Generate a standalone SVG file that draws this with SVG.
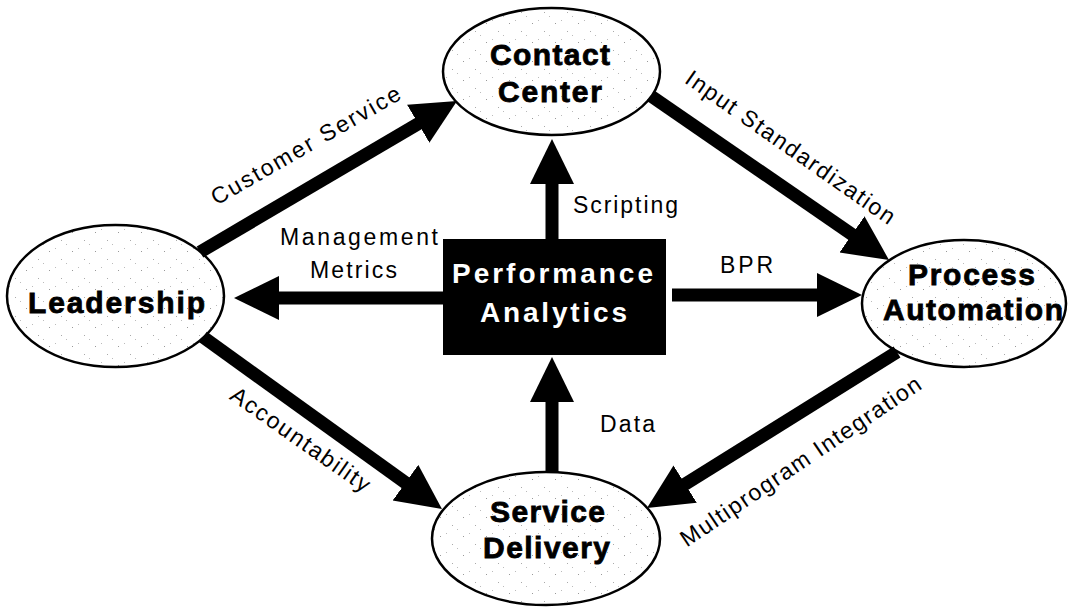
<svg xmlns="http://www.w3.org/2000/svg" width="1069" height="608" viewBox="0 0 1069 608">
  <style>
    .node-shape { fill: url(#stipple); stroke: #000; stroke-width: 2.5; }
    .node-label { font-family: "Liberation Sans", Arial, sans-serif; font-weight: bold; font-size: 30px; fill: #000; stroke: #000; stroke-width: 0.8; text-anchor: middle; }
    .hub-label { font-family: "Liberation Sans", Arial, sans-serif; font-weight: bold; font-size: 28px; fill: #fff; text-anchor: middle; }
    .edge { stroke: #000; stroke-width: 13; fill: none; stroke-linecap: butt; marker-end: url(#head); }
    .edge-label { font-family: "Liberation Sans", Arial, sans-serif; font-size: 23px; fill: #000; }
  </style>
  <defs>
    <!-- sparse speckled fill for the oval nodes -->
    <pattern id="stipple" width="23" height="19" patternUnits="userSpaceOnUse">
      <rect width="23" height="19" fill="#fff"/>
      <rect x="3" y="4" width="1" height="1" fill="#999"/>
      <rect x="15" y="12" width="1" height="1" fill="#aaa"/>
      <rect x="9" y="1" width="1" height="1" fill="#bbb"/>
      <rect x="20" y="16" width="1" height="1" fill="#bbb"/>
    </pattern>
    <marker id="head" markerUnits="userSpaceOnUse" viewBox="0 0 46 46" markerWidth="46" markerHeight="46" refX="14" refY="23" orient="auto">
      <path d="M0,1 L45,23 L0,45 Z" fill="#000"/>
    </marker>
  </defs>

  <rect width="1069" height="608" fill="#fff"/>

  <g id="contact-center">
    <ellipse class="node-shape" cx="551.5" cy="71.5" rx="108.5" ry="63.5"/>
    <text class="node-label" x="550" y="65" textLength="120">Contact</text>
    <text class="node-label" x="550" y="102" textLength="104">Center</text>
  </g>

  <g id="leadership">
    <ellipse class="node-shape" cx="115.5" cy="296" rx="108.5" ry="71"/>
    <text class="node-label" x="116.5" y="313" textLength="177">Leadership</text>
  </g>

  <g id="process-automation">
    <ellipse class="node-shape" cx="964" cy="303.5" rx="102" ry="63.5"/>
    <text class="node-label" x="971.5" y="285" textLength="127">Process</text>
    <text class="node-label" x="973" y="320" textLength="180">Automation</text>
  </g>

  <g id="service-delivery">
    <ellipse class="node-shape" cx="546" cy="538.5" rx="114" ry="66.5"/>
    <text class="node-label" x="547.5" y="522" textLength="115">Service</text>
    <text class="node-label" x="546.5" y="558" textLength="127">Delivery</text>
  </g>

  <g id="performance-analytics">
    <rect x="443" y="239" width="223" height="116" fill="#000"/>
    <text class="hub-label" x="552.5" y="283" textLength="201">Performance</text>
    <text class="hub-label" x="553.5" y="322" textLength="147">Analytics</text>
  </g>

  <g id="connectors">
    <!-- Leadership -> Contact Center -->
    <line class="edge" x1="200" y1="252" x2="430.3" y2="116.7"/>
    <!-- Contact Center -> Process Automation -->
    <line class="edge" x1="651" y1="96" x2="863.5" y2="242.4"/>
    <!-- Leadership -> Service Delivery -->
    <line class="edge" x1="203" y1="337" x2="416.8" y2="490.9"/>
    <!-- Process Automation -> Service Delivery -->
    <line class="edge" x1="897" y1="352" x2="673.3" y2="491.6"/>
    <!-- Performance Analytics -> Leadership -->
    <line class="edge" x1="443" y1="298" x2="265" y2="298"/>
    <!-- Performance Analytics -> Process Automation -->
    <line class="edge" x1="672" y1="295" x2="831" y2="295"/>
    <!-- Performance Analytics -> Contact Center -->
    <line class="edge" x1="552" y1="239" x2="552" y2="170"/>
    <!-- Service Delivery -> Performance Analytics -->
    <line class="edge" x1="552" y1="472" x2="552" y2="388"/>

    <text class="edge-label" transform="translate(306,146) rotate(-30)" text-anchor="middle" y="7" textLength="215">Customer Service</text>
    <text class="edge-label" transform="translate(790,148) rotate(35)" text-anchor="middle" y="7" textLength="250">Input Standardization</text>
    <text class="edge-label" transform="translate(300,440) rotate(35)" text-anchor="middle" y="7" textLength="165">Accountability</text>
    <text class="edge-label" transform="translate(801,462) rotate(-34)" text-anchor="middle" y="7" textLength="285">Multiprogram Integration</text>
    <text class="edge-label" x="573" y="213" textLength="105">Scripting</text>
    <text class="edge-label" x="280" y="245" textLength="158">Management</text>
    <text class="edge-label" x="310" y="278" textLength="87">Metrics</text>
    <text class="edge-label" x="720" y="273" textLength="53">BPR</text>
    <text class="edge-label" x="600" y="432" textLength="55">Data</text>
  </g>
</svg>
